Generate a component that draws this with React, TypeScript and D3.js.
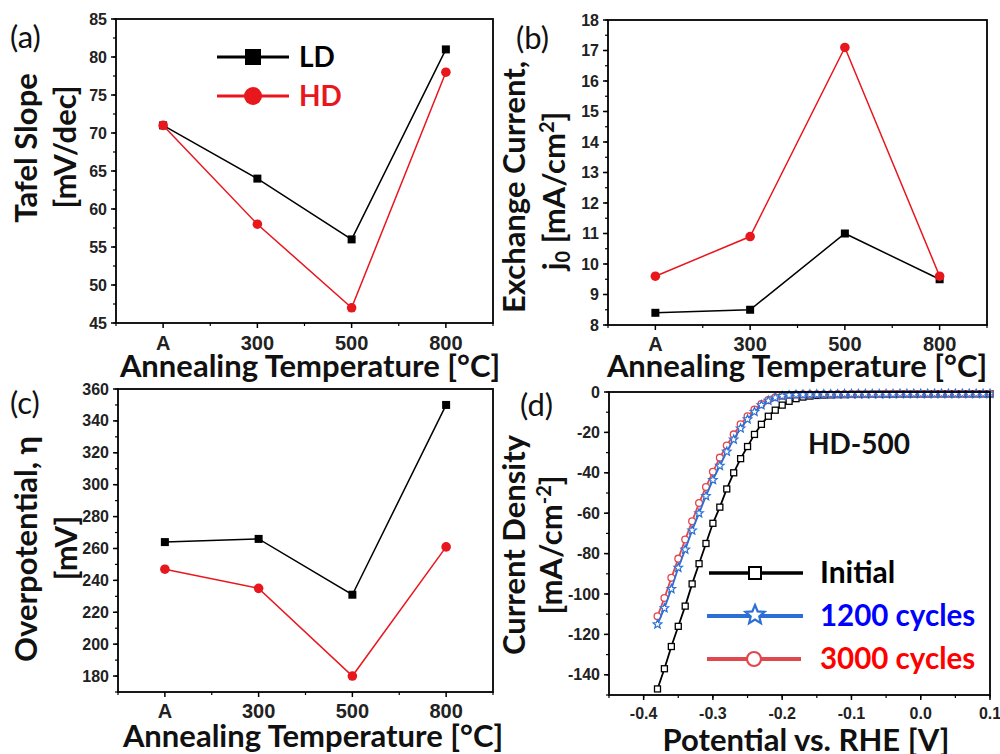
import React from 'react';
import * as d3 from 'd3';

// ---------- DATA ----------
const categories = ['A', '300', '500', '800'];
const tafelLD = [71, 64, 56, 81];
const tafelHD = [71, 58, 47, 78];
const exchLD = [8.4, 8.5, 11.0, 9.5];
const exchHD = [9.6, 10.9, 17.1, 9.6];
const overLD = [264, 266, 231, 350];
const overHD = [247, 235, 180, 261];

const tafelTicks = [45, 50, 55, 60, 65, 70, 75, 80, 85];
const exchTicks = [8, 9, 10, 11, 12, 13, 14, 15, 16, 17, 18];
const overTicks = [180, 200, 220, 240, 260, 280, 300, 320, 340, 360];
const potTicks = [-0.4, -0.3, -0.2, -0.1, 0.0, 0.1];
const potTickLabels = ['-0.4', '-0.3', '-0.2', '-0.1', '0.0', '0.1'];
const jTicks = [0, -20, -40, -60, -80, -100, -120, -140];

const potential = [
  -0.38, -0.37, -0.36, -0.35, -0.34, -0.33, -0.32, -0.31, -0.30, -0.29,
  -0.28, -0.27, -0.26, -0.25, -0.24, -0.23, -0.22, -0.21, -0.20, -0.19,
  -0.18, -0.17, -0.16, -0.15, -0.14, -0.13, -0.12, -0.11, -0.10, -0.09,
  -0.08, -0.07, -0.06, -0.05, -0.04, -0.03, -0.02, -0.01, 0.00, 0.01,
  0.02, 0.03, 0.04, 0.05, 0.06, 0.07, 0.08, 0.09, 0.10,
];
const initialJ = [
  -147, -137, -126, -116, -106, -95, -85, -75, -65, -57,
  -48, -40, -33, -27, -21, -16, -12, -9, -6.5, -4.6,
  -3.3, -2.5, -2.0, -1.7, -1.5, -1.4, -1.3, -1.3, -1.2, -1.2,
  -1.2, -1.1, -1.1, -1.1, -1.1, -1.0, -1.0, -1.0, -1.0, -1.0,
  -0.9, -0.9, -0.9, -0.9, -0.9, -0.9, -0.9, -0.9, -0.9,
];
const cycles1200J = [
  -115, -107, -97.5, -87, -78, -68.5, -60, -51.5, -43.5, -36.5,
  -29.5, -23.5, -18, -13.5, -9.8, -6.5, -4.3, -2.8, -2.0, -1.6,
  -1.4, -1.3, -1.2, -1.2, -1.1, -1.1, -1.1, -1.0, -1.0, -1.0,
  -1.0, -1.0, -1.0, -1.0, -1.0, -0.9, -0.9, -0.9, -0.9, -0.9,
  -0.9, -0.9, -0.9, -0.9, -0.9, -0.9, -0.9, -0.9, -0.9,
];
const cycles3000J = [
  -111, -102, -92, -82.5, -73, -64, -55, -47, -39.5, -32.5,
  -26.5, -21, -16, -12, -8.7, -6, -4, -2.6, -1.9, -1.5,
  -1.3, -1.2, -1.2, -1.1, -1.1, -1.1, -1.0, -1.0, -1.0, -1.0,
  -1.0, -1.0, -1.0, -0.9, -0.9, -0.9, -0.9, -0.9, -0.9, -0.9,
  -0.9, -0.9, -0.9, -0.9, -0.9, -0.9, -0.9, -0.9, -0.9,
];

// ---------- STYLE ----------
const RED = '#e8161d';
const BLUE_LINE = '#2b6fd6';
const RED_LINE = '#e0484d';
const TICK_FONT = '"Liberation Sans", Arial, sans-serif';
const TITLE_FONT = 'Lato, "Open Sans", sans-serif';
const TITLE_SIZE = 31;

function starPath(cx: number, cy: number, R: number, r: number) {
  const pts: string[] = [];
  for (let i = 0; i < 10; i++) {
    const ang = -Math.PI / 2 + (i * Math.PI) / 5;
    const rad = i % 2 === 0 ? R : r;
    pts.push(`${cx + rad * Math.cos(ang)},${cy + rad * Math.sin(ang)}`);
  }
  return 'M' + pts.join('L') + 'Z';
}

type CatProps = {
  x0: number; x1: number; y0: number; y1: number;
  domain: [number, number]; ticks: number[]; minorStep: number;
  ld: number[]; hd: number[];
  xLabelY: number;
};

function CatPanel({ x0, x1, y0, y1, domain, ticks, minorStep, ld, hd, xLabelY }: CatProps) {
  const x = d3.scaleLinear().domain([-0.5, 3.5]).range([x0, x1]);
  const y = d3.scaleLinear().domain(domain).range([y1, y0]);
  const minor = d3.range(domain[0], domain[1] + 1e-9, minorStep);
  const xMinor = [-0.5, 0.5, 1.5, 2.5, 3.5];
  const line = d3.line<number>().x((_, i) => x(i)).y((d) => y(d));
  return (
    <g>
      {minor.map((t, i) => (
        <line key={'ym' + i} x1={x0 - 3} x2={x0} y1={y(t)} y2={y(t)} stroke="#000" strokeWidth={1.2} />
      ))}
      {ticks.map((t) => (
        <g key={'y' + t}>
          <line x1={x0 - 5} x2={x0} y1={y(t)} y2={y(t)} stroke="#000" strokeWidth={1.5} />
          <text x={x0 - 9} y={y(t) + 5.5} textAnchor="end" fontFamily={TICK_FONT} fontWeight="bold" fontSize={16} fill="#222">{t}</text>
        </g>
      ))}
      {xMinor.map((t) => (
        <line key={'xm' + t} x1={x(t)} x2={x(t)} y1={y1} y2={y1 + 3} stroke="#000" strokeWidth={1.2} />
      ))}
      {categories.map((c, i) => (
        <g key={'x' + c}>
          <line x1={x(i)} x2={x(i)} y1={y1} y2={y1 + 5} stroke="#000" strokeWidth={1.5} />
          <text x={x(i)} y={xLabelY} textAnchor="middle" fontFamily={TICK_FONT} fontWeight="bold" fontSize={20} fill="#222">{c}</text>
        </g>
      ))}
      <rect x={x0} y={y0} width={x1 - x0} height={y1 - y0} fill="none" stroke="#000" strokeWidth={1.8} />
      <path d={line(ld) || ''} fill="none" stroke="#000" strokeWidth={1.5} />
      {ld.map((v, i) => (
        <rect key={'ld' + i} x={x(i) - 4} y={y(v) - 4} width={8} height={8} fill="#000" />
      ))}
      <path d={line(hd) || ''} fill="none" stroke={RED} strokeWidth={1.5} />
      {hd.map((v, i) => (
        <circle key={'hd' + i} cx={x(i)} cy={y(v)} r={4.8} fill={RED} />
      ))}
    </g>
  );
}

function LsvPanel() {
  const x0 = 609, x1 = 990, y0 = 392, y1 = 695;
  const x = d3.scaleLinear().domain([-0.45, 0.1]).range([x0, x1]);
  const y = d3.scaleLinear().domain([-150, 0]).range([y1, y0]);
  const yMinor = d3.range(-150, 0.001, 10);
  const xMinor = d3.range(-0.45, 0.1001, 0.05);
  const mk = (arr: number[]) => d3.line<number>().x((_, i) => x(potential[i])).y((d) => y(d))(arr) || '';
  return (
    <g>
      {yMinor.map((t, i) => (
        <line key={'ym' + i} x1={x0 - 3} x2={x0} y1={y(t)} y2={y(t)} stroke="#000" strokeWidth={1.2} />
      ))}
      {jTicks.map((t) => (
        <g key={'y' + t}>
          <line x1={x0 - 5} x2={x0} y1={y(t)} y2={y(t)} stroke="#000" strokeWidth={1.5} />
          <text x={x0 - 9} y={y(t) + 5.5} textAnchor="end" fontFamily={TICK_FONT} fontWeight="bold" fontSize={16} fill="#222">{t}</text>
        </g>
      ))}
      {xMinor.map((t, i) => (
        <line key={'xm' + i} x1={x(t)} x2={x(t)} y1={y1} y2={y1 + 3} stroke="#000" strokeWidth={1.2} />
      ))}
      {potTicks.map((t, i) => (
        <g key={'x' + i}>
          <line x1={x(t)} x2={x(t)} y1={y1} y2={y1 + 5} stroke="#000" strokeWidth={1.5} />
          <text x={x(t)} y={719} textAnchor="middle" fontFamily={TICK_FONT} fontWeight="bold" fontSize={16} fill="#222">{potTickLabels[i]}</text>
        </g>
      ))}
      <defs>
        <clipPath id="clipd"><rect x={x0} y={y0 - 4} width={x1 - x0 + 4} height={y1 - y0 + 4} /></clipPath>
      </defs>
      <g clipPath="url(#clipd)">
        <path d={mk(initialJ)} fill="none" stroke="#000" strokeWidth={1.8} />
        {initialJ.map((v, i) => (
          <rect key={'i' + i} x={x(potential[i]) - 3} y={y(v) - 3} width={6} height={6} fill="#fff" stroke="#000" strokeWidth={1.3} />
        ))}
        <path d={mk(cycles3000J)} fill="none" stroke={RED_LINE} strokeWidth={1.8} />
        {cycles3000J.map((v, i) => (
          <circle key={'c' + i} cx={x(potential[i])} cy={y(v)} r={3.4} fill="#fff" stroke={RED_LINE} strokeWidth={1.3} />
        ))}
        <path d={mk(cycles1200J)} fill="none" stroke={BLUE_LINE} strokeWidth={1.8} />
        {cycles1200J.map((v, i) => (
          <path key={'s' + i} d={starPath(x(potential[i]), y(v), 4.5, 2)} fill="#fff" stroke={BLUE_LINE} strokeWidth={1.2} />
        ))}
      </g>
      <rect x={x0} y={y0} width={x1 - x0} height={y1 - y0} fill="none" stroke="#000" strokeWidth={1.8} />
      <text x={808} y={454} fontFamily={TITLE_FONT} fontWeight="bold" fontSize={28} fill="#111">HD-500</text>
      {/* legend */}
      <line x1={709} x2={803} y1={573} y2={573} stroke="#000" strokeWidth={3.5} />
      <rect x={749} y={567} width={12} height={12} fill="#fff" stroke="#000" strokeWidth={2} />
      <text x={820} y={583} fontFamily={TITLE_FONT} fontWeight="bold" fontSize={30} fill="#000">Initial</text>
      <line x1={707} x2={803} y1={616} y2={616} stroke={BLUE_LINE} strokeWidth={4} />
      <path d={starPath(755, 615, 10, 4.5)} fill="#fff" stroke={BLUE_LINE} strokeWidth={2.2} />
      <text x={820} y={626} fontFamily={TITLE_FONT} fontWeight="bold" fontSize={29.5} fill="#0000ff">1200 cycles</text>
      <line x1={707} x2={801} y1={659} y2={659} stroke={RED_LINE} strokeWidth={4} />
      <circle cx={754} cy={659} r={7} fill="#fff" stroke={RED_LINE} strokeWidth={2.2} />
      <text x={820} y={669} fontFamily={TITLE_FONT} fontWeight="bold" fontSize={29.5} fill="#ff0000">3000 cycles</text>
    </g>
  );
}

function VTitle({ x, y, children, size = TITLE_SIZE }: { x: number; y: number; children: React.ReactNode; size?: number }) {
  return (
    <text transform={`translate(${x},${y}) rotate(-90)`} textAnchor="middle" fontFamily={TITLE_FONT} fontWeight="bold" fontSize={size} fill="#111">
      {children}
    </text>
  );
}

function HTitle({ x, y, children }: { x: number; y: number; children: React.ReactNode }) {
  return (
    <text x={x} y={y} textAnchor="middle" fontFamily={TITLE_FONT} fontWeight="bold" fontSize={TITLE_SIZE} fill="#111">{children}</text>
  );
}

function PLabel({ x, y, t }: { x: number; y: number; t: string }) {
  return <text x={x} y={y} fontFamily={TITLE_FONT} fontSize={31} fill="#111">{t}</text>;
}

export default function App() {
  return (
    <svg width={1000} height={754} style={{ position: 'absolute', left: 0, top: 0, background: '#fff' }}>
      <rect x={0} y={0} width={1000} height={754} fill="#fff" />
      {/* (a) */}
      <CatPanel x0={116} x1={493} y0={19} y1={323} domain={[45, 85]} ticks={tafelTicks} minorStep={2.5} ld={tafelLD} hd={tafelHD} xLabelY={350} />
      <PLabel x={10} y={48} t="(a)" />
      <VTitle x={37} y={148}>Tafel Slope</VTitle>
      <VTitle x={76} y={147}>[mV/dec]</VTitle>
      <HTitle x={310} y={377}>Annealing Temperature [°C]</HTitle>
      <line x1={217} x2={289} y1={57} y2={57} stroke="#000" strokeWidth={3} />
      <rect x={245} y={49} width={16} height={16} fill="#000" />
      <text x={299} y={67} fontFamily={TITLE_FONT} fontWeight="bold" fontSize={28} fill="#000">LD</text>
      <line x1={217} x2={289} y1={96} y2={96} stroke={RED} strokeWidth={3} />
      <circle cx={253} cy={96} r={9} fill={RED} />
      <text x={299} y={106} fontFamily={TITLE_FONT} fontWeight="bold" fontSize={28} fill={RED}>HD</text>

      {/* (b) */}
      <CatPanel x0={608} x1={987} y0={20} y1={325} domain={[8, 18]} ticks={exchTicks} minorStep={0.5} ld={exchLD} hd={exchHD} xLabelY={351} />
      <PLabel x={516} y={49} t="(b)" />
      <VTitle x={525} y={187}>Exchange Current,</VTitle>
      <VTitle x={565} y={191}>
        <tspan>j</tspan><tspan fontSize={20} dy={5}>0</tspan><tspan dy={-5}> [mA/cm</tspan><tspan fontSize={20} dy={-11}>2</tspan><tspan dy={11}>]</tspan>
      </VTitle>
      <HTitle x={797} y={377}>Annealing Temperature [°C]</HTitle>

      {/* (c) */}
      <CatPanel x0={118} x1={493} y0={389} y1={692} domain={[170, 360]} ticks={overTicks} minorStep={10} ld={overLD} hd={overHD} xLabelY={718} />
      <PLabel x={10} y={414} t="(c)" />
      <VTitle x={37} y={549}>Overpotential, η</VTitle>
      <VTitle x={77} y={548}>[mV]</VTitle>
      <HTitle x={313} y={747}>Annealing Temperature [°C]</HTitle>

      {/* (d) */}
      <LsvPanel />
      <PLabel x={520} y={416} t="(d)" />
      <VTitle x={525} y={545}>Current Density</VTitle>
      <VTitle x={562} y={545}>
        <tspan>[mA/cm</tspan><tspan fontSize={20} dy={-11}>-2</tspan><tspan dy={11}>]</tspan>
      </VTitle>
      <text x={806} y={751} textAnchor="middle" fontFamily={TITLE_FONT} fontWeight="bold" fontSize={TITLE_SIZE} fill="#111">Potential vs. RHE [V]</text>
    </svg>
  );
}
